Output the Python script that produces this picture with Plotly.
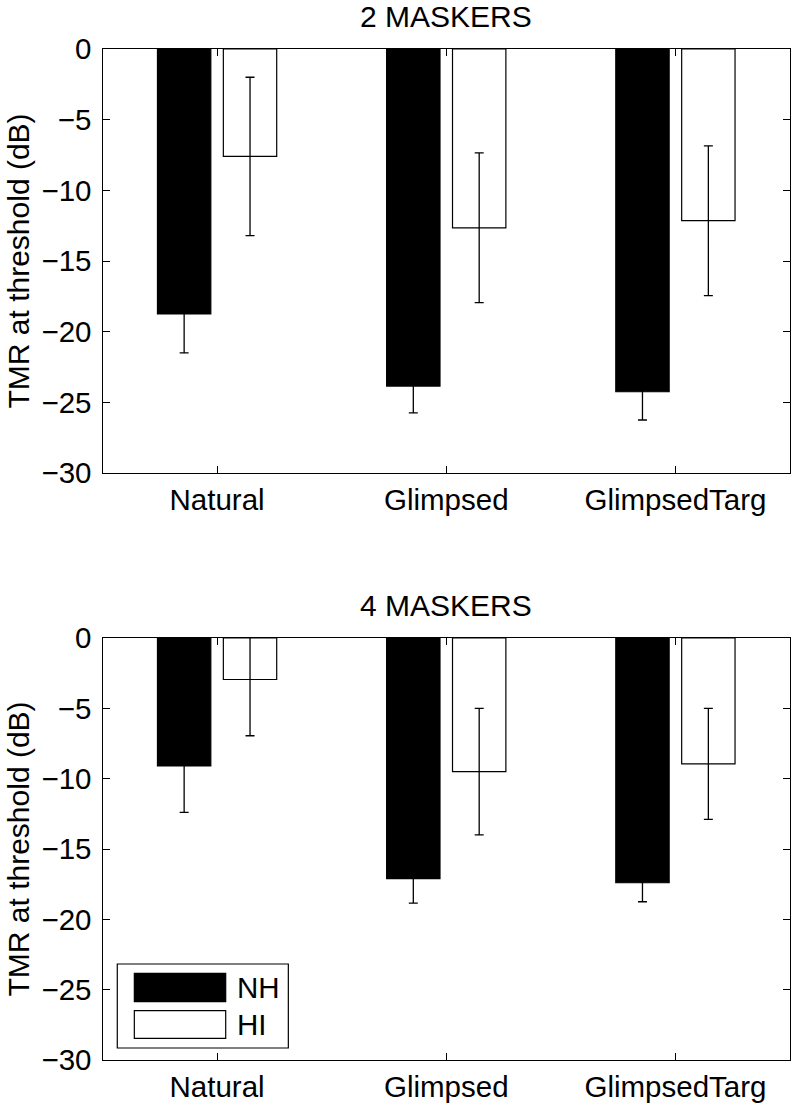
import plotly.graph_objects as go
from plotly.subplots import make_subplots

categories = ["Natural", "Glimpsed", "GlimpsedTarg"]
series_names = ["NH", "HI"]
series_fill = ["black", "white"]

# 2 maskers
nh_2 = [-18.75, -23.85, -24.25]
nh_2_err = [2.75, 1.9, 2.0]
hi_2 = [-7.6, -12.65, -12.15]
hi_2_err = [5.6, 5.3, 5.3]

# 4 maskers
nh_4 = [-9.1, -17.1, -17.4]
nh_4_err = [3.3, 1.75, 1.35]
hi_4 = [-2.95, -9.5, -8.95]
hi_4_err = [4.0, 4.5, 3.95]

panel_titles = ["2 MASKERS", "4 MASKERS"]
y_title = "TMR at threshold (dB)"
y_ticks = [0, -5, -10, -15, -20, -25, -30]

FONT = "Liberation Sans, Arial, Helvetica, sans-serif"
FS = 29.5
FS_T = 30
W, H = 791, 1106

fig = make_subplots(rows=2, cols=1)

panels = [([nh_2, hi_2], [nh_2_err, hi_2_err]), ([nh_4, hi_4], [nh_4_err, hi_4_err])]
for r, (vals, errs) in enumerate(panels, start=1):
    for name, fill, v, e in zip(series_names, series_fill, vals, errs):
        fig.add_trace(go.Bar(
            x=categories, y=v, name=name,
            marker=dict(color=fill, line=dict(color="black", width=1.2)),
            error_y=dict(type="data", array=e, visible=True, color="black",
                         thickness=1.3, width=4.5),
            showlegend=False,
        ), row=r, col=1)

xdom = [102.5 / W, 790 / W]
ydoms = [[1 - 473 / H, 1 - 49 / H], [1 - 1060 / H, 1 - 638 / H]]

axis_common = dict(showline=True, linecolor="black", linewidth=1.2, mirror="ticks",
                   ticks="inside", ticklen=7, tickwidth=1.2, tickcolor="black",
                   showgrid=False, zeroline=False,
                   tickfont=dict(family=FONT, size=FS, color="black"))

for i in (1, 2):
    xa = "xaxis" if i == 1 else "xaxis2"
    ya = "yaxis" if i == 1 else "yaxis2"
    fig.update_layout(**{
        xa: dict(axis_common, domain=xdom, type="category", range=[-0.5, 2.5],
                 anchor="y" if i == 1 else "y2", automargin=False),
        ya: dict(axis_common, domain=ydoms[i - 1], range=[-30, 0],
                 tickvals=y_ticks, anchor="x" if i == 1 else "x2",
                 automargin=False, ticklabelstandoff=4),
    })

annotations = []
for i, t in enumerate(panel_titles, start=1):
    sfx = "" if i == 1 else "2"
    annotations.append(dict(text=t, xref=f"x{sfx} domain", yref=f"y{sfx} domain",
                            x=0.5, y=1, xanchor="center", yanchor="middle", yshift=33,
                            showarrow=False, font=dict(family=FONT, size=FS_T, color="black")))
    annotations.append(dict(text=y_title, xref="paper", yref=f"y{sfx} domain",
                            x=17.5 / W, y=0.5, xanchor="center", yanchor="middle",
                            textangle=-90, showarrow=False,
                            font=dict(family=FONT, size=FS_T, color="black")))

# custom legend in lower panel
shapes = [dict(type="rect", xref="x2 domain", yref="y2 domain",
               x0=0.0215, x1=0.2703, y0=0.0284, y1=0.2275,
               line=dict(color="black", width=1.2), fillcolor="white")]
leg_rows = [(0.2055, 0.1382, 0.1718), (0.1168, 0.0514, 0.0853)]
for name, fill, (ya0, ya1, yc) in zip(series_names, series_fill, leg_rows):
    shapes.append(dict(type="rect", xref="x2 domain", yref="y2 domain",
                       x0=0.0463, x1=0.1792, y0=ya1, y1=ya0,
                       line=dict(color="black", width=1.2), fillcolor=fill))
    annotations.append(dict(text=name, xref="x2 domain", yref="y2 domain",
                            x=0.1927, y=yc, xanchor="left", yanchor="middle",
                            showarrow=False, font=dict(family=FONT, size=FS, color="black")))

fig.update_layout(
    width=W, height=H,
    margin=dict(l=0, r=0, t=0, b=0),
    paper_bgcolor="white", plot_bgcolor="white",
    barmode="group", bargap=0.425, bargroupgap=0.19,
    annotations=annotations, shapes=shapes,
    showlegend=False,
    font=dict(family=FONT, size=FS, color="black"),
)

fig.write_html("out.html", config={"displayModeBar": False},
               post_script="document.body.style.margin='0px';document.body.style.padding='0px';")
